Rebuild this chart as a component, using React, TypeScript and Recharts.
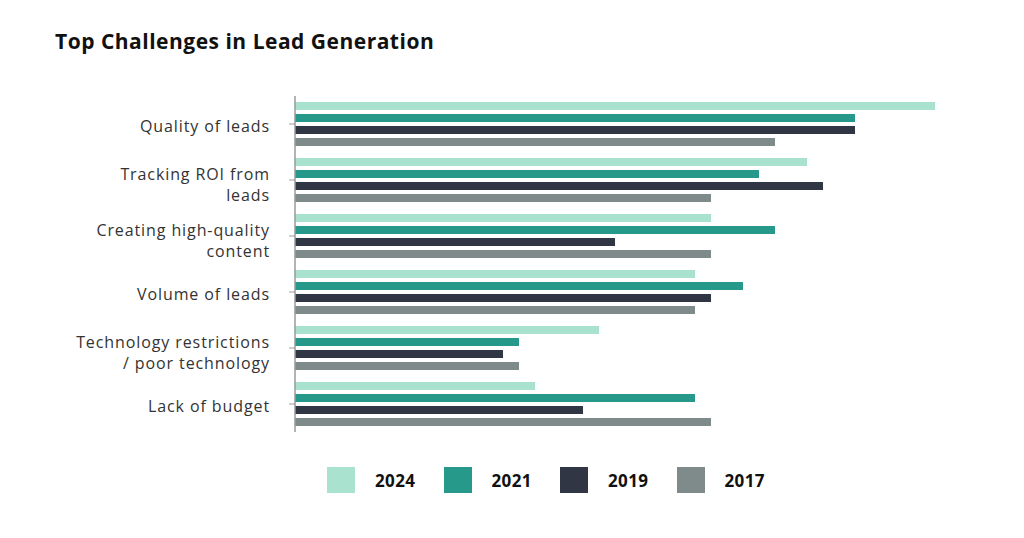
import React from 'react';
import { BarChart, Bar, XAxis, YAxis } from 'recharts';

const categories = [
  'Quality of leads',
  'Tracking ROI from leads',
  'Creating high-quality content',
  'Volume of leads',
  'Technology restrictions / poor technology',
  'Lack of budget',
];
const tickLines = [
  ['Quality of leads'],
  ['Tracking ROI from', 'leads'],
  ['Creating high-quality', 'content'],
  ['Volume of leads'],
  ['Technology restrictions', '/ poor technology'],
  ['Lack of budget'],
];
const values2024 = [40, 32, 26, 25, 19, 15];
const values2021 = [35, 29, 30, 28, 14, 25];
const values2019 = [35, 33, 20, 26, 13, 18];
const values2017 = [30, 26, 26, 25, 14, 26];

const seriesKeys = ['2024', '2021', '2019', '2017'];
const seriesColors = ['#a9e3cf', '#26998a', '#313645', '#7f8a8b'];

const data = categories.map((c, i) => ({
  name: c,
  '2024': values2024[i],
  '2021': values2021[i],
  '2019': values2019[i],
  '2017': values2017[i],
}));

const FONT = '"Open Sans", sans-serif';

const CatTick = (props: any) => {
  const { x, y, payload } = props;
  const idx = categories.indexOf(String(payload.value));
  const lines = idx >= 0 ? tickLines[idx] : [String(payload.value)];
  const offsets = lines.length === 1 ? [8] : [0, 21];
  return (
    <g>
      {lines.map((l, i) => (
        <text
          key={i}
          x={x}
          y={y + offsets[i]}
          textAnchor="end"
          fill="#333333"
          fontSize={16}
          letterSpacing={0.9}
          fontFamily={FONT}
        >
          {l}
        </text>
      ))}
    </g>
  );
};

export default function App() {
  return (
    <div
      style={{
        position: 'absolute',
        left: 0,
        top: 0,
        width: 1024,
        height: 538,
        background: '#ffffff',
        fontFamily: FONT,
      }}
    >
      <div
        style={{
          position: 'absolute',
          left: 55,
          top: 27,
          fontSize: 21,
          fontWeight: 700,
          letterSpacing: 0.5,
          color: '#111111',
          whiteSpace: 'nowrap',
        }}
      >
        Top Challenges in Lead Generation
      </div>
      <div style={{ position: 'absolute', left: 0, top: 0 }}>
        <BarChart
          width={1024}
          height={538}
          data={data}
          layout="vertical"
          margin={{ top: 96, right: 89, bottom: 106, left: 0 }}
          barSize={8}
          barGap={4}
        >
          <XAxis type="number" domain={[0, 40]} hide />
          <YAxis
            type="category"
            dataKey="name"
            width={295}
            axisLine={{ stroke: '#9a9a9a', strokeWidth: 1.5 }}
            tickLine={{ stroke: '#9a9a9a' }}
            tickSize={6}
            tickMargin={19}
            tick={<CatTick />}
            interval={0}
          />
          {seriesKeys.map((k, i) => (
            <Bar key={k} dataKey={k} fill={seriesColors[i]} isAnimationActive={false} />
          ))}
        </BarChart>
      </div>
      {seriesKeys.map((k, i) => (
        <div
          key={k}
          style={{
            position: 'absolute',
            left: 327 + i * 116.5,
            top: 467,
            display: 'flex',
            alignItems: 'center',
          }}
        >
          <div style={{ width: 28, height: 26, background: seriesColors[i] }} />
          <div
            style={{
              marginLeft: 20,
              fontSize: 17,
              fontWeight: 700,
              letterSpacing: 0.4,
              color: '#111111',
            }}
          >
            {k}
          </div>
        </div>
      ))}
    </div>
  );
}
